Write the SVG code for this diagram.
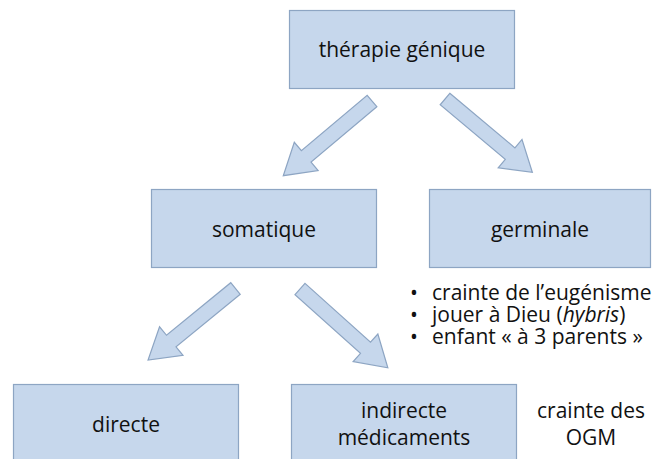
<svg xmlns="http://www.w3.org/2000/svg" width="661" height="459" viewBox="0 0 661 459">
<style>
.box{fill:#c6d7ec;stroke:#8da5c3;stroke-width:1.2}
.arr{fill:#c6d7ec;stroke:#8da5c3;stroke-width:1.2;stroke-linejoin:miter}
text{font-family:"Open Sans","Liberation Sans",sans-serif;fill:#111111;font-size:21px}
.c{text-anchor:middle}
</style>
<rect width="661" height="459" fill="#ffffff"/>
<g id="connectors">
<polygon class="arr" transform="translate(372,101) rotate(139.9)" points="0,-7.5 86,-7.5 86,-18.5 116,0 86,18.5 86,7.5 0,7.5"/>
<polygon class="arr" transform="translate(445,99) rotate(40)" points="0,-7.5 85,-7.5 85,-18.5 114,0 85,18.5 85,7.5 0,7.5"/>
<polygon class="arr" transform="translate(235.5,288.5) rotate(140.7)" points="0,-7.5 83,-7.5 83,-18.5 113,0 83,18.5 83,7.5 0,7.5"/>
<polygon class="arr" transform="translate(300,289) rotate(41.9)" points="0,-7.5 88,-7.5 88,-18.5 118,0 88,18.5 88,7.5 0,7.5"/>
</g>
<g id="therapie">
<rect class="box" x="289.5" y="10.5" width="225" height="78"/>
<text class="c" x="402" y="57">thérapie génique</text>
</g>
<g id="somatique">
<rect class="box" x="151.5" y="189.5" width="225" height="78"/>
<text class="c" x="264" y="237">somatique</text>
</g>
<g id="germinale">
<rect class="box" x="429.5" y="189.5" width="221" height="78"/>
<text class="c" x="540" y="237">germinale</text>
</g>
<g id="germinale-notes">
<text font-size="20"><tspan x="410" y="300">•</tspan><tspan x="432">crainte de l’eugénisme</tspan><tspan x="410" y="322">•</tspan><tspan x="432">jouer à Dieu (<tspan font-style="italic">hybris</tspan>)</tspan><tspan x="410" y="344">•</tspan><tspan x="432">enfant « à 3 parents »</tspan></text>
</g>
<g id="directe">
<rect class="box" x="13.5" y="384.5" width="225" height="80"/>
<text class="c" x="126" y="432">directe</text>
</g>
<g id="indirecte">
<rect class="box" x="291.5" y="384.5" width="225" height="80"/>
<text class="c" x="404" y="418">indirecte</text>
<text class="c" x="404" y="445">médicaments</text>
</g>
<g id="ogm">
<text class="c" x="591" y="418">crainte des</text>
<text class="c" x="591" y="445">OGM</text>
</g>
</svg>
